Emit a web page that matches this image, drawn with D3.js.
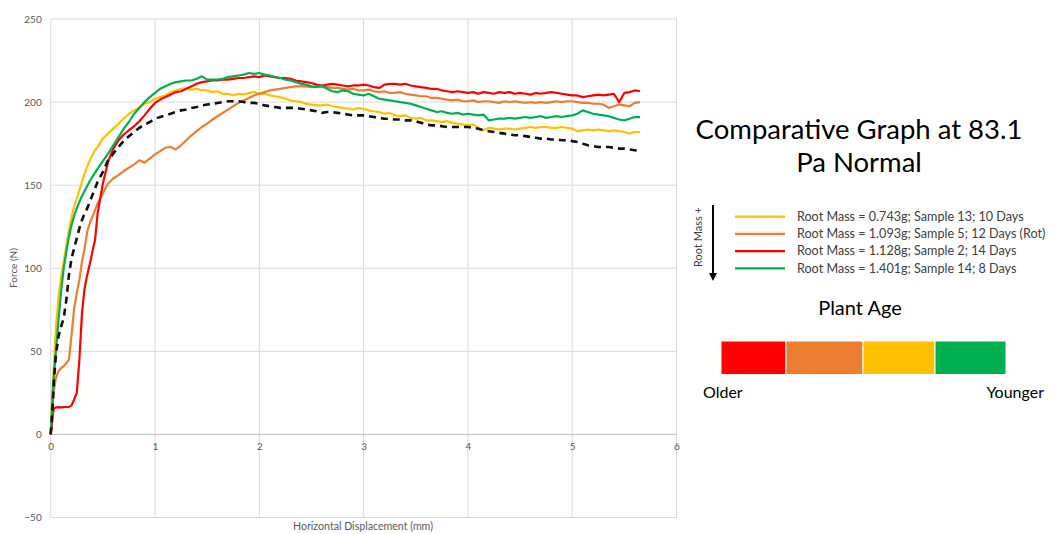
<!DOCTYPE html>
<html>
<head>
<meta charset="utf-8">
<script src="https://cdn.jsdelivr.net/npm/d3@7"></script>
<style>
  body { margin: 0; background: #fff; }
  svg { display: block; }
  text { font-family: Lato, "Open Sans", sans-serif; }
</style>
</head>
<body>
<svg id="chart" width="1053" height="534"></svg>
<script>
// Horizontal displacement sample positions (mm)
const displacement = [
  0, 0.01, 0.02, 0.03, 0.05, 0.075, 0.1, 0.125, 0.15, 0.175, 0.2, 0.225, 0.25, 0.275, 0.3, 0.325, 0.35, 0.375, 0.4, 0.425, 0.45, 0.5, 0.55,
  0.60, 0.65, 0.70, 0.75, 0.80, 0.85, 0.90, 0.95, 1.00, 1.05,
  1.10, 1.15, 1.20, 1.25, 1.30, 1.35, 1.40, 1.45, 1.50, 1.55,
  1.60, 1.65, 1.70, 1.75, 1.80, 1.85, 1.90, 1.95, 2.00, 2.05,
  2.10, 2.15, 2.20, 2.25, 2.30, 2.35, 2.40, 2.45, 2.50, 2.55,
  2.60, 2.65, 2.70, 2.75, 2.80, 2.85, 2.90, 2.95, 3.00, 3.05,
  3.10, 3.15, 3.20, 3.25, 3.30, 3.35, 3.40, 3.45, 3.50, 3.55,
  3.60, 3.65, 3.70, 3.75, 3.80, 3.85, 3.90, 3.95, 4.00, 4.05,
  4.10, 4.15, 4.20, 4.25, 4.30, 4.35, 4.40, 4.45, 4.50, 4.55,
  4.60, 4.65, 4.70, 4.75, 4.80, 4.85, 4.90, 4.95, 5.00, 5.05,
  5.10, 5.15, 5.20, 5.25, 5.30, 5.35, 5.40, 5.45, 5.50, 5.55,
  5.60, 5.65
];

// Force (N) for each sample
const sample13 = [
  0, 18, 30, 40, 64, 83, 95, 104, 114, 123, 131, 137, 142, 147, 152, 157, 161, 165, 168, 171, 173, 178, 181,
  184, 187, 190, 193, 195, 197, 199, 200, 202, 203,
  204, 206, 207, 208, 208, 207.5, 208, 207, 207, 206,
  206.5, 205, 205, 204, 205, 204.5, 205.5, 206, 205, 205,
  204, 203.5, 203, 202, 201, 200.5, 200, 199, 198.5, 198,
  198, 198.5, 197.5, 197, 196.5, 196, 195.5, 196.5, 196, 195,
  194.5, 194, 193, 193.5, 192, 191.5, 192, 190.5, 190, 190.5,
  189, 189, 188.5, 188, 188.5, 187.5, 187, 186.5, 186, 186.5,
  184.5, 183, 184.5, 184, 183.5, 184, 184, 183.5, 184, 184.5,
  185, 184.5, 185, 185, 184.5, 184.5, 185, 184.5, 184, 182.5,
  183, 183.5, 183, 183.5, 183, 182.5, 183, 182.5, 182, 181,
  182, 182
];

const sample5 = [
  0, 10, 20, 26, 34, 38, 40, 41, 43, 45, 60, 76, 85, 93, 104, 112, 122, 127, 131, 135, 139, 145, 151,
  154, 156, 158.5, 160.5, 162.5, 165, 163.5, 166, 168.5, 170.5,
  172.5, 173, 171.5, 174, 177, 180, 182.5, 185, 187, 189.5,
  191.5, 193.5, 195.5, 197.5, 199.5, 201, 202.5, 204, 205, 206,
  207, 207.5, 208, 208.5, 209, 209.5, 209.5, 209.5, 209, 209.5,
  209, 209, 208.5, 208.5, 208, 207.5, 208, 207, 207, 207.5,
  206.5, 206, 206.5, 205.5, 205.5, 206, 205, 204.5, 204, 203.5,
  203.5, 202.5, 202.5, 202, 201.5, 201, 201.5, 200.5, 200.5, 201,
  200, 200.5, 200.5, 200, 199.5, 200.5, 200, 200.5, 200, 199.5,
  200, 199.5, 200, 199.5, 200, 200.5, 200, 200.5, 200.5, 200,
  199.5, 199.5, 199, 199, 198.5, 196.5, 197.5, 198.5, 198, 197.5,
  199.5, 200
];

const sample2 = [
  0, 5, 12, 15.5, 16.2, 16.4, 16.3, 16.4, 16.5, 16.6, 17.5, 21, 25, 45, 73, 88, 96, 102.5, 110, 117, 133, 151, 164,
  172, 177, 180.5, 183, 185.5, 188.5, 192, 196, 199.5, 201.5,
  203, 204.5, 206, 206.5, 208, 209.5, 211, 212, 212.5, 213,
  213, 213.5, 213.5, 214, 214.5, 214.5, 215, 215.5, 215, 216,
  215.5, 215, 214.5, 214.5, 214, 213, 212.5, 212, 211.5, 210.5,
  210, 210.5, 211, 210.5, 210, 209.5, 210, 210, 210.5, 210,
  209, 208.5, 210.5, 211, 211, 210.5, 211, 210, 209.5, 209,
  208.5, 208, 208, 207, 206.5, 206, 206.5, 206, 205.5, 206,
  205, 206, 205.5, 205, 206, 205.5, 206, 205, 205.5, 205,
  204.5, 205.5, 205, 205.5, 206, 205.5, 205, 204.5, 204, 204,
  203, 203.5, 204, 204.5, 204, 204.5, 205, 200, 205.5, 206,
  207, 206.5
];

const sample14 = [
  0, 12, 25, 35, 50, 69, 86, 100, 110, 119, 126, 131.5, 136, 140, 143.5, 146.5, 149.5, 152.5, 155, 157.5, 160, 164.5, 169,
  174, 179, 184, 188, 193, 196.5, 200, 203, 205.5, 208,
  209.5, 211, 212, 212.5, 213, 213, 214, 215.5, 213.5, 213.5,
  213.5, 214, 215, 215.5, 216, 216.5, 217.5, 217, 217.5, 216.5,
  216, 215, 214.5, 213.5, 213, 212, 211, 210.5, 209.5, 209,
  210, 208, 206.5, 206, 207, 206.5, 205, 204.5, 204, 205,
  203.5, 202, 201.5, 201, 200.5, 200, 199.5, 199, 198, 197,
  196, 195, 194, 194.5, 193.5, 193, 193.5, 192.5, 193, 192.5,
  192, 192.5, 189, 189.5, 190, 190, 190.5, 190, 190.5, 191,
  190.5, 191, 191.5, 190.5, 191, 191.5, 191, 191.5, 192, 193,
  195, 194, 193, 192.5, 192, 191.5, 190.5, 189.5, 189, 190,
  191, 191
];

// Average response, drawn dashed
const averageForce = [
  0, 8, 18, 32, 48, 59, 65, 70, 81, 96, 106, 112, 118, 124, 129, 133, 136, 140, 144, 148, 152, 158, 165,
  169, 173, 176.5, 179.5, 182, 184.5, 186.5, 188, 190, 191,
  192, 193, 194, 195, 195.5, 196.5, 197, 198, 198.5, 199,
  199.5, 200, 200.5, 200.5, 200.5, 200, 199.5, 199.5, 199, 198,
  197.5, 197, 196.5, 196.5, 196.5, 196.5, 196, 195.5, 195, 194.5,
  193.5, 194, 194, 193.5, 193, 192.5, 192, 192, 192, 191.5,
  191, 190.5, 190, 190, 189.5, 189.5, 189, 189, 188.5, 187.5,
  186.5, 186, 186, 185.5, 185, 185, 185, 185, 185, 184.5,
  184, 183, 182.5, 182, 181.5, 181, 180.5, 180, 180, 179.5,
  179, 178.5, 178, 178, 177.5, 177.5, 177, 177, 176.5, 176,
  175, 174, 173.5, 173, 173, 173, 172.5, 172, 172, 171.5,
  171, 170.5
];

const seriesLabels = [
  "Root Mass = 0.743g; Sample 13; 10 Days",
  "Root Mass = 1.093g; Sample 5; 12 Days (Rot)",
  "Root Mass = 1.128g; Sample 2; 14 Days",
  "Root Mass = 1.401g; Sample 14; 8 Days"
];
const seriesColors = ["#FFC000", "#ED7D31", "#FF0000", "#00B050"];
const seriesValues = [sample13, sample5, sample2, sample14];

const xTicks = [0, 1, 2, 3, 4, 5, 6];
const yTicks = [-50, 0, 50, 100, 150, 200, 250];

// Plant age bar, oldest to youngest
const ageColors = ["#FF0000", "#ED7D31", "#FFC000", "#00B050"];
const ageWidths = [65, 77, 72, 71];

const svg = d3.select("#chart");

const x = d3.scaleLinear().domain([0, 6]).range([50.7, 676.5]);
const y = d3.scaleLinear().domain([-50, 250]).range([517.5, 19]);

// Gridlines
const grid = svg.append("g");
grid.selectAll("line.v").data(xTicks).join("line")
  .attr("x1", d => x(d)).attr("x2", d => x(d))
  .attr("y1", y(250)).attr("y2", y(-50))
  .attr("stroke", "#d9d9d9").attr("stroke-width", 1);
grid.selectAll("line.h").data(yTicks).join("line")
  .attr("x1", x(0)).attr("x2", x(6))
  .attr("y1", d => y(d)).attr("y2", d => y(d))
  .attr("stroke", d => d === 0 ? "#bfbfbf" : "#d9d9d9").attr("stroke-width", 1);

// Axes (labels only; the lines come from the grid)
const xAxis = d3.axisBottom(x).tickValues(xTicks).tickFormat(d3.format("d")).tickSize(0).tickPadding(8);
svg.append("g").attr("transform", `translate(0,${y(0)})`).call(xAxis)
  .call(g => g.select(".domain").remove())
  .call(g => g.selectAll("text").attr("fill", "#595959").style("font-size", "10px").style("font-family", "Lato, sans-serif"));

const yAxis = d3.axisLeft(y).tickValues(yTicks).tickFormat(d3.format("d")).tickSize(0).tickPadding(9);
svg.append("g").attr("transform", `translate(${x(0)},0)`).call(yAxis)
  .call(g => g.select(".domain").remove())
  .call(g => g.selectAll("text").attr("fill", "#595959").style("font-size", "10px").style("font-family", "Lato, sans-serif"));

svg.append("text")
  .attr("transform", "translate(17,268) rotate(-90)")
  .attr("text-anchor", "middle")
  .attr("fill", "#595959").style("font-size", "10px")
  .text("Force (N)");

svg.append("text")
  .attr("x", 363).attr("y", 530)
  .attr("text-anchor", "middle")
  .attr("fill", "#595959").style("font-size", "10.6px")
  .text("Horizontal Displacement (mm)");

// Force-displacement curves
const line = d3.line()
  .x((d, i) => x(displacement[i]))
  .y(d => y(d));

const curves = svg.append("g");
seriesValues.forEach((vals, k) => {
  curves.append("path")
    .datum(vals)
    .attr("d", line)
    .attr("fill", "none")
    .attr("stroke", seriesColors[k])
    .attr("stroke-width", 2.2)
    .attr("stroke-linejoin", "round");
});
curves.append("path")
  .datum(averageForce)
  .attr("d", line)
  .attr("fill", "none")
  .attr("stroke", "#111")
  .attr("stroke-width", 2.6)
  .attr("stroke-dasharray", "7,5");

// Title
const title = svg.append("text")
  .attr("text-anchor", "middle")
  .attr("fill", "#000")
  .style("font-size", "27.5px");
title.append("tspan").attr("x", 859).attr("y", 139).text("Comparative Graph at 83.1");
title.append("tspan").attr("x", 859).attr("y", 172).text("Pa Normal");

// Legend
const legend = svg.append("g");
const legendY = d => 216.7 + d * 17.2;
legend.selectAll("line").data(seriesColors).join("line")
  .attr("x1", 735).attr("x2", 785)
  .attr("y1", (d, i) => legendY(i)).attr("y2", (d, i) => legendY(i))
  .attr("stroke", d => d).attr("stroke-width", 2.2);
legend.selectAll("text").data(seriesLabels).join("text")
  .attr("x", 797).attr("y", (d, i) => legendY(i) + 4.3)
  .attr("fill", "#404040").style("font-size", "12.6px")
  .text(d => d);

// Root mass arrow
svg.append("defs").append("marker")
  .attr("id", "arrowhead").attr("viewBox", "0 0 10 10")
  .attr("refX", 5).attr("refY", 5)
  .attr("markerWidth", 4).attr("markerHeight", 4)
  .attr("orient", "auto")
  .append("path").attr("d", "M0,0L10,5L0,10Z").attr("fill", "#000");
svg.append("line")
  .attr("x1", 713).attr("x2", 713).attr("y1", 205).attr("y2", 277)
  .attr("stroke", "#000").attr("stroke-width", 2)
  .attr("marker-end", "url(#arrowhead)");
svg.append("text")
  .attr("transform", "translate(702,237) rotate(-90)")
  .attr("text-anchor", "middle")
  .attr("fill", "#404040").style("font-size", "11px")
  .text("Root Mass +");

// Plant age scale
svg.append("text")
  .attr("x", 860).attr("y", 315)
  .attr("text-anchor", "middle")
  .attr("fill", "#000").style("font-size", "20px")
  .text("Plant Age");

svg.append("g").selectAll("rect").data(ageColors).join("rect")
  .attr("x", (d, i) => 721 + d3.sum(ageWidths.slice(0, i)))
  .attr("y", 341)
  .attr("width", (d, i) => ageWidths[i])
  .attr("height", 33.5)
  .attr("fill", d => d)
  .attr("stroke", "#fff").attr("stroke-width", 1);

svg.append("text")
  .attr("x", 703).attr("y", 398)
  .attr("fill", "#000").style("font-size", "16px")
  .text("Older");
svg.append("text")
  .attr("x", 1044).attr("y", 398)
  .attr("text-anchor", "end")
  .attr("fill", "#000").style("font-size", "16px")
  .text("Younger");
</script>
</body>
</html>
